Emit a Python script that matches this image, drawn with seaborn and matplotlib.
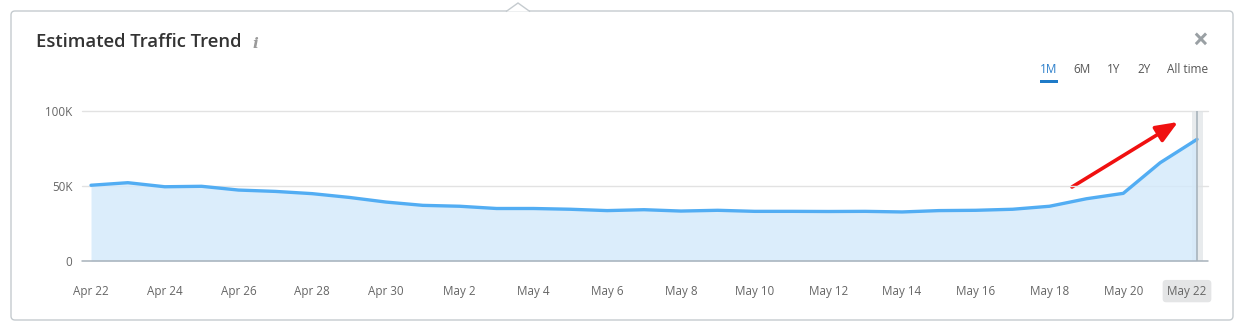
import matplotlib
matplotlib.use("Agg")
import matplotlib.pyplot as plt
from matplotlib.patches import FancyBboxPatch, Rectangle, Polygon
from matplotlib.transforms import ScaledTranslation
import seaborn as sns
import pandas as pd
import numpy as np

sns.set_theme(style="white")
plt.rcParams['font.family'] = ['Open Sans', 'DejaVu Sans']

# ---- data ----
dates = ["Apr 22", "Apr 23", "Apr 24", "Apr 25", "Apr 26", "Apr 27", "Apr 28", "Apr 29",
         "Apr 30", "May 1", "May 2", "May 3", "May 4", "May 5", "May 6", "May 7",
         "May 8", "May 9", "May 10", "May 11", "May 12", "May 13", "May 14", "May 15",
         "May 16", "May 17", "May 18", "May 19", "May 20", "May 21", "May 22"]
traffic = [50500, 52200, 49500, 49800, 47300, 46400, 44900, 42400,
           39300, 37100, 36500, 35000, 35000, 34500, 33600, 34200,
           33300, 33800, 33100, 33100, 33000, 33100, 32700, 33600,
           33800, 34500, 36500, 41500, 45100, 65500, 81100]
ytick_vals = [0, 50000, 100000]
ytick_labels = ["0", "50K", "100K"]
periods = ["1M", "6M", "1Y", "2Y", "All time"]

df = pd.DataFrame({"day": np.arange(len(dates)), "date": dates, "traffic": traffic})

W, H = 1252, 332
fig = plt.figure(figsize=(W / 100, H / 100), dpi=100)

# ---- card background ----
bg = fig.add_axes([0, 0, 1, 1])
bg.set_xlim(0, W)
bg.set_ylim(H, 0)
bg.axis("off")
card = FancyBboxPatch((11, 11), 1222, 309, boxstyle="round,pad=0,rounding_size=4",
                      facecolor="white", edgecolor="#c5cbcf", linewidth=1.0)
bg.add_patch(card)
bg.add_patch(Polygon([[506, 11.6], [518, 3], [530, 11.6]], closed=False,
                     facecolor="white", edgecolor="#c5cbcf", linewidth=1.0))

bg.text(36, 42, "Estimated Traffic Trend", fontsize=13.3, color="#333333",
        fontweight="semibold", va="center", ha="left")
bg.text(252, 44, "i", fontsize=11, color="#9a9a9a", style="italic",
        fontweight="bold", family=["DejaVu Serif"], va="center", ha="left")
bg.text(1200, 41, "\u00d7", fontsize=20, color="#9aa0a4", fontweight="bold",
        va="center", ha="center")

px = [1049, 1082, 1114, 1144, 1188]
for p, xx in zip(periods, px):
    bg.text(xx, 69.5, p, fontsize=8.5, color="#2b7fcb" if p == "1M" else "#555555",
            ha="center", va="center")
bg.add_patch(Rectangle((1040, 80), 18, 3, facecolor="#1f7bc8", edgecolor="none"))

# ---- chart ----
x0, x1 = 91, 1197
ppd = (x1 - x0) / (len(dates) - 1)
left_px, right_px = 82, 1208
top_px, bot_px = 111, 261
ax = fig.add_axes([left_px / W, (H - bot_px) / H, (right_px - left_px) / W,
                   (bot_px - top_px) / H])
ax.set_facecolor("none")
ax.set_xlim((left_px - x0) / ppd, (len(dates) - 1) + (right_px - x1) / ppd)
ax.set_ylim(0, 100000)

for v in ytick_vals[1:]:
    ax.axhline(v, color="#e2e2e2", lw=1.0, zorder=0, clip_on=False)
ax.axhline(0, color="#a7b2bb", lw=1.1, zorder=4, clip_on=False)

last = len(dates) - 1
ax.axvspan(last - 5.5 / ppd, last + 5.5 / ppd, color="#dfe3e6", alpha=0.7, zorder=1, lw=0)
ax.fill_between(df["day"], df["traffic"], color="#d3e9fb", alpha=0.8, lw=0, zorder=2)
sns.lineplot(data=df, x="day", y="traffic", ax=ax, color="#52adf3", lw=2.4,
             zorder=3, solid_capstyle="round", solid_joinstyle="round")
ax.axvline(last, color="#a9b4bc", lw=1.2, zorder=3)

for s in ax.spines.values():
    s.set_visible(False)
ax.set_xlabel("")
ax.set_ylabel("")
xt = list(range(0, len(dates), 2))
ax.set_xticks(xt)
ax.set_xticklabels([dates[i] for i in xt], fontsize=8.4, color="#666666")
ax.set_yticks(ytick_vals)
ax.set_yticklabels(ytick_labels, fontsize=8.4, color="#666666")
ax.tick_params(axis="x", length=0, pad=17)
ax.tick_params(axis="y", length=0, pad=7)
lastlab = ax.get_xticklabels()[-1]
lastlab.set_bbox(dict(boxstyle="round,pad=0.4,rounding_size=0.3",
                      facecolor="#e4e5e6", edgecolor="none"))
lastlab.set_transform(lastlab.get_transform() +
                      ScaledTranslation(-10 / 100, 0, fig.dpi_scale_trans))

# red annotation arrow
bg.annotate("", xy=(1178, 122), xytext=(1072, 187),
            arrowprops=dict(arrowstyle="-|>,head_length=1.1,head_width=0.45",
                            color="#f01010", lw=2.6, shrinkA=0, shrinkB=0))

fig.savefig("out.png", dpi=100)
